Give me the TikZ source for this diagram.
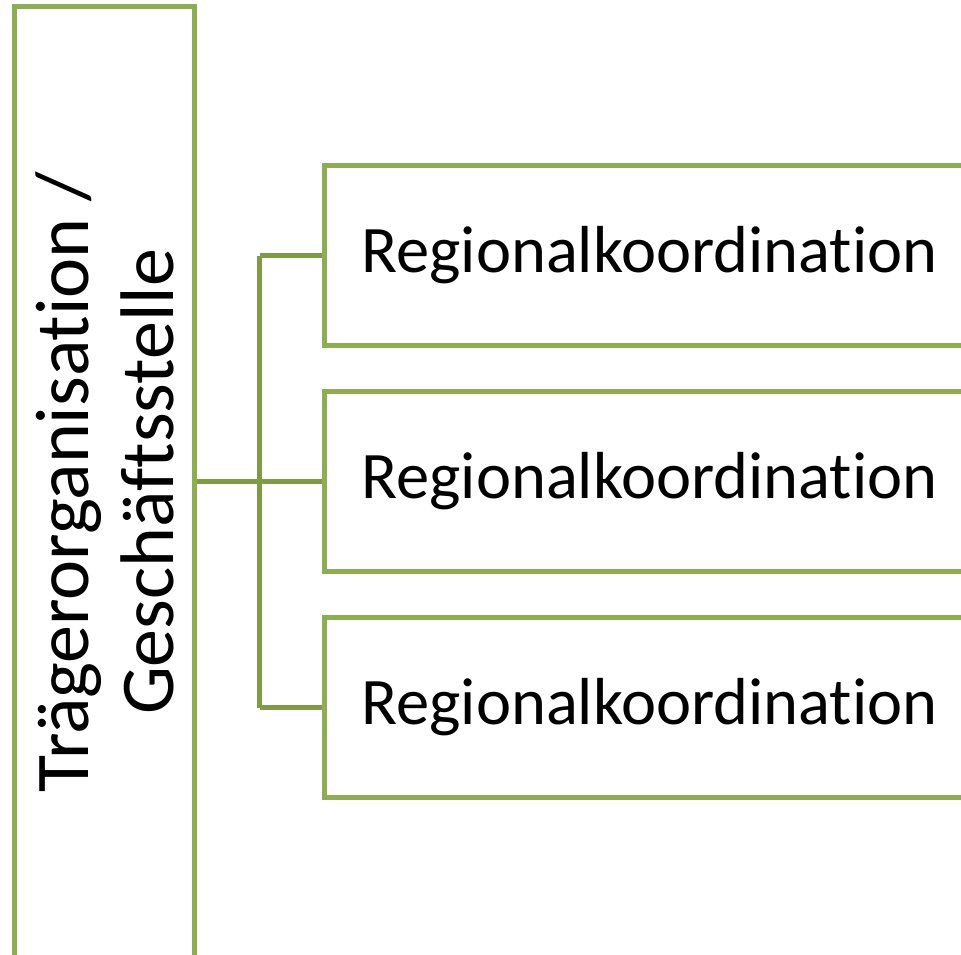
\documentclass[tikz,border=0pt]{standalone}
\usepackage{fontspec}
\setmainfont{Carlito}[Ligatures=NoCommon]
\usetikzlibrary{positioning}
\definecolor{BoxGreen}{HTML}{8EAC52}
\definecolor{LinkGreen}{HTML}{7F9B48}
\begin{document}
\begin{tikzpicture}[x=1pt, y=-1pt,
    orgbox/.style={draw=BoxGreen, line width=5pt, fill=white, inner sep=0pt},
    link/.style={draw=LinkGreen, line width=5pt}]
  \useasboundingbox (0,0) rectangle (961,955);
  \clip (0,0) rectangle (961,955);
  % left column, rotated
  \node[orgbox, rotate=90, minimum width=950pt, minimum height=180pt,
        align=center, font=\fontsize{76}{85}\selectfont]
       (traeger) at (104.5,482) {Trägerorganisation /\\Geschäftsstelle};
  % three regional boxes
  \foreach \i/\y in {1/255.5, 2/481.5, 3/707.5} {
    \node[orgbox, minimum width=650pt, minimum height=180pt,
          font=\fontsize{66.5}{78}\selectfont]
         (region\i) at (649.5,\y) {Regionalkoordination};
  }
  \coordinate (bus) at (259.5,481.5);
  \draw[link] (traeger.south |- region2.west) -- (region2.west);
  \draw[link] (bus |- region1.west) -- (bus |- region3.west);
  \draw[link] (bus |- region1.west) -- (region1.west);
  \draw[link] (bus |- region3.west) -- (region3.west);
\end{tikzpicture}
\end{document}
